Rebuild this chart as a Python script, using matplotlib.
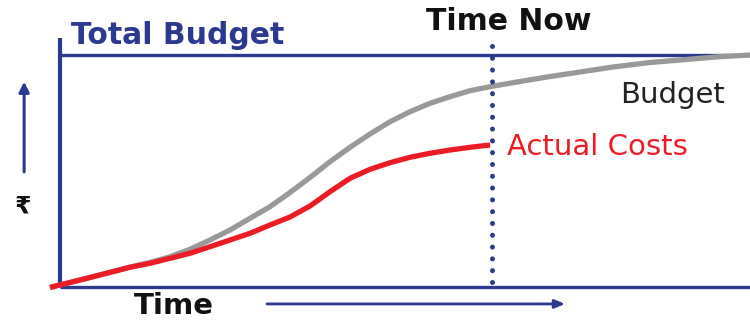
import matplotlib
matplotlib.use("Agg")
import matplotlib.pyplot as plt

# time axis: 0 = project start, 100 = project end
# cost axis: % of total budget
budget_t = [-1.45, 4.35, 10.14, 13.04, 15.94, 18.84, 21.74, 24.64, 27.54, 30.43,
            33.33, 36.23, 39.13, 42.03, 44.93, 47.83, 50.72, 53.62, 56.52, 59.42,
            62.32, 66.67, 70.58, 75.36, 80.14, 85.51, 89.86, 94.93, 100.0]
budget_c = [-0.2, 4.1, 8.62, 10.56, 13.06, 16.25, 20.26, 24.57, 29.61, 34.61,
            40.73, 47.2, 54.01, 60.22, 65.95, 71.25, 75.56, 79.18, 82.03, 84.61,
            86.34, 88.58, 90.52, 92.67, 94.83, 96.77, 97.84, 99.14, 100.0]

actual_t = [-1.45, 4.35, 10.14, 13.04, 15.94, 18.84, 21.74, 24.64, 27.54, 30.43,
            33.33, 36.23, 39.13, 42.03, 44.93, 47.83, 50.72, 53.62, 56.52, 59.42,
            62.32]
actual_c = [-0.2, 4.1, 8.49, 10.22, 12.37, 14.53, 17.37, 20.26, 23.15, 26.72,
            30.17, 34.91, 41.08, 46.85, 50.73, 53.58, 55.91, 57.63, 59.05, 60.22,
            61.21]

time_now = 62.6
total_budget = 100

navy = "#2b3990"
red = "#ed1c24"
grey = "#999999"
font = ["DejaVu Sans"]

fig = plt.figure(figsize=(7.5, 3.2), dpi=100)
ax = fig.add_axes([0, 0, 1, 1])
ax.set_xlim(-8.696, 100)
ax.set_ylim(-14.22, 123.71)
ax.axis("off")

# frame lines
ax.plot([0, 0], [-0.4, 107.3], color=navy, lw=3.0, solid_capstyle="butt")
ax.plot([0, 100], [0, 0], color=navy, lw=2.4, solid_capstyle="butt")
ax.plot([0, 100], [total_budget, total_budget], color=navy, lw=2.4, solid_capstyle="butt")

# curves
ax.plot(budget_t, budget_c, color=grey, lw=3.8, solid_capstyle="butt",
        solid_joinstyle="round")
ax.plot(actual_t, actual_c, color=red, lw=3.8, solid_capstyle="butt",
        solid_joinstyle="round")

# time now marker
ax.plot([time_now, time_now], [2.2, 105.6], color=navy, lw=3.6,
        linestyle=(0, (0.01, 2.35)), dash_capstyle="round")

# labels
ax.text(1.6, 108.6, "Total Budget", color=navy, fontsize=21.5, fontweight="bold",
        family=font, ha="left", va="center")
ax.text(65.1, 114.4, "Time Now", color="#111111", fontsize=21.5, fontweight="bold",
        family=font, ha="center", va="center")
ax.text(81.2, 82.8, "Budget", color="#222222", fontsize=21, family=font,
        ha="left", va="center")
ax.text(64.8, 60.3, "Actual Costs", color=red, fontsize=21, family=font,
        ha="left", va="center")
ax.text(10.7, -8.2, "Time", color="#111111", fontsize=21, fontweight="bold",
        family=font, ha="left", va="center")
ax.text(-5.4, 34.5, "₹", color="#111111", fontsize=17, fontweight="bold",
        family=["DejaVu Sans", "Noto Sans"], ha="center", va="center")

# axis arrows
ax.annotate("", xy=(-5.2, 88.5), xytext=(-5.2, 49.6),
            arrowprops=dict(arrowstyle="-|>,head_length=0.6,head_width=0.3",
                            color=navy, lw=2.2, shrinkA=0, shrinkB=0))
ax.annotate("", xy=(73.2, -7.3), xytext=(30.0, -7.3),
            arrowprops=dict(arrowstyle="-|>,head_length=0.6,head_width=0.25",
                            color=navy, lw=2.0, shrinkA=0, shrinkB=0))

fig.savefig("out.png", dpi=100)
